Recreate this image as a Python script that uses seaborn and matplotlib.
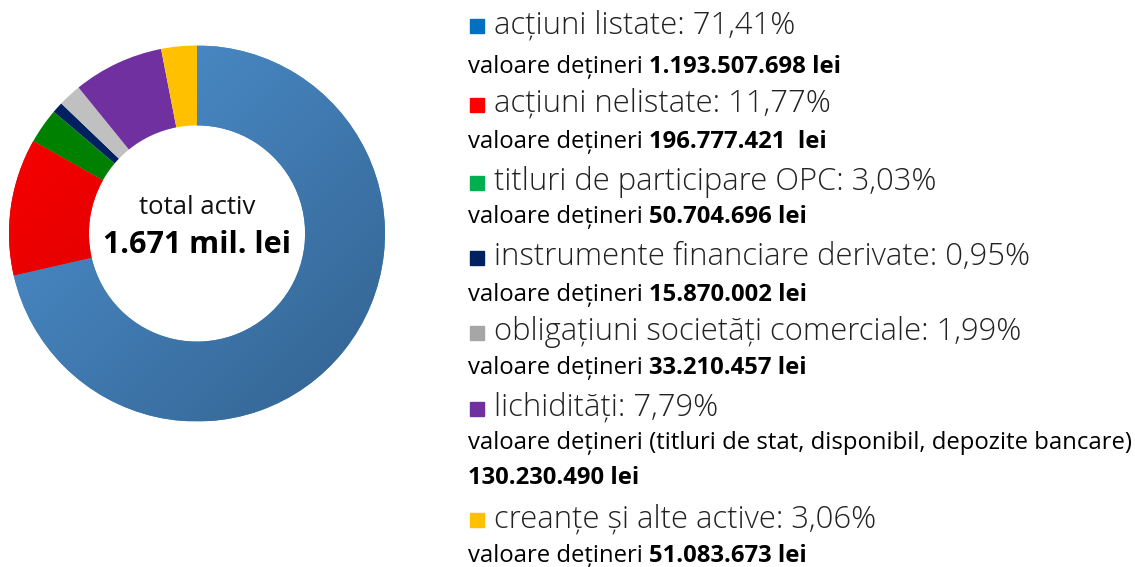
import numpy as np
import matplotlib
matplotlib.use('Agg')
import matplotlib.pyplot as plt
import seaborn as sns
from matplotlib.colors import LinearSegmentedColormap
from matplotlib.patches import Rectangle

sns.set_theme(style='white')
plt.rcParams['font.family'] = ['Open Sans', 'DejaVu Sans']

# date
categorii = ['acțiuni listate', 'acțiuni nelistate', 'titluri de participare OPC',
             'instrumente financiare derivate', 'obligațiuni societăți comerciale',
             'lichidități', 'creanțe și alte active']
procente = [71.41, 11.77, 3.03, 0.95, 1.99, 7.79, 3.06]
procente_txt = ['71,41%', '11,77%', '3,03%', '0,95%', '1,99%', '7,79%', '3,06%']
valori_txt = ['1.193.507.698 lei', '196.777.421  lei', '50.704.696 lei', '15.870.002 lei',
              '33.210.457 lei', '130.230.490 lei', '51.083.673 lei']
culori_pie = ['#4A8CC8', '#E80000', '#008000', '#002060', '#C0C0C0', '#7030A0', '#FFC000']
culori_legenda = ['#0070C0', '#FF0000', '#00B050', '#002060', '#A6A6A6', '#7030A0', '#FFC000']
total_txt = '1.671 mil. lei'

W, H = 1135, 567
fig = plt.figure(figsize=(W / 100, H / 100), dpi=100)
fig.patch.set_facecolor('white')

# --- grafic rosca ---
cx, cy, R = 197, 233.5, 188
ax = fig.add_axes([(cx - R) / W, (H - cy - R) / H, 2 * R / W, 2 * R / H])
wedges, _ = ax.pie(procente, colors=culori_pie, startangle=90, counterclock=False,
                   radius=1, wedgeprops={'width': 0.425, 'linewidth': 0})
ax.set_xlim(-1, 1)
ax.set_ylim(-1, 1)
ax.set_aspect('equal')
ax.axis('off')

# gradient pe feliile mari (albastru, rosu)
xx, yy = np.meshgrid(np.linspace(-1, 1, 300), np.linspace(1, -1, 300))
grad = (xx - yy + 2) / 4
for w, (c1, c2) in zip(wedges[:2], [('#4F93D3', '#32628F'), ('#FF0000', '#C00000')]):
    cmap = LinearSegmentedColormap.from_list('g', [c1, c2])
    im = ax.imshow(grad, cmap=cmap, extent=[-1, 1, -1, 1], zorder=w.get_zorder() + 0.5,
                   interpolation='bilinear')
    im.set_clip_path(w)

ax.text(0, 0.14, 'total activ', ha='center', va='center', fontsize=18.5, color='#111111')
ax.text(0, -0.06, total_txt, ha='center', va='center', fontsize=22, fontweight='bold',
        color='black')


def px(x, y):
    return x / W, 1 - y / H


renderer = fig.canvas.get_renderer()


def text_mixt(x, y, normal, bold, size=17.2):
    t = fig.text(*px(x, y), normal, fontsize=size, va='center', ha='left', color='black')
    bb = t.get_window_extent(renderer)
    if bold:
        fig.text(bb.x1 / W, 1 - y / H, bold, fontsize=size, fontweight='bold',
                 va='center', ha='left', color='black')


# --- legenda text ---
y_titlu = [25, 104, 182, 257, 332, 408, 519]
y_valoare = [67, 142, 217, 295, 368, 443, 556]

for i, cat in enumerate(categorii):
    yt = y_titlu[i]
    fig.patches.append(Rectangle(px(470, yt + 8), 14 / W, 14 / H, transform=fig.transFigure,
                                 color=culori_legenda[i], figure=fig))
    fig.text(*px(494, yt), f'{cat}: {procente_txt[i]}', fontsize=22.3, fontweight='light',
             va='center', ha='left', color='#222222')
    if cat == 'lichidități':
        text_mixt(468, y_valoare[i],
                  'valoare dețineri (titluri de stat, disponibil, depozite bancare)', '')
        text_mixt(468, 478, '', valori_txt[i])
    else:
        text_mixt(468, y_valoare[i], 'valoare dețineri ', valori_txt[i])

fig.savefig('out.png', dpi=100, facecolor='white')
